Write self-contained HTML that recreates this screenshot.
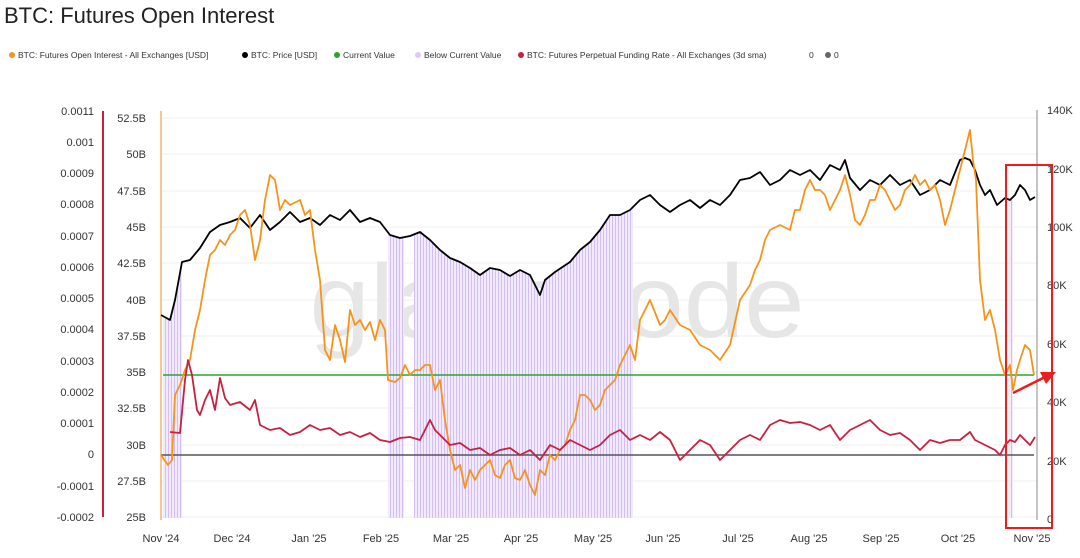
<!DOCTYPE html>
<html><head><meta charset="utf-8"><style>
body{margin:0;background:#fff;width:1080px;height:553px;overflow:hidden;font-family:"Liberation Sans",Arial,sans-serif}
</style></head><body>
<svg width="1080" height="553" xmlns="http://www.w3.org/2000/svg" font-family="Liberation Sans, Arial, sans-serif">
<text x="4" y="23" font-size="22" fill="#222">BTC: Futures Open Interest</text>
<g font-size="8.5" fill="#333">
<circle cx="12" cy="55" r="3" fill="#f7931a"/><text x="18" y="58">BTC: Futures Open Interest - All Exchanges [USD]</text>
<circle cx="245" cy="55" r="3" fill="#000"/><text x="251" y="58">BTC: Price [USD]</text>
<circle cx="337" cy="55" r="3" fill="#2aa52a"/><text x="343" y="58">Current Value</text>
<circle cx="418" cy="55" r="3" fill="#dcc8fa"/><text x="424" y="58">Below Current Value</text>
<circle cx="521" cy="55" r="3" fill="#c8203f"/><text x="527" y="58">BTC: Futures Perpetual Funding Rate - All Exchanges (3d sma)</text>
<text x="809" y="58">0</text><circle cx="828" cy="55" r="3" fill="#666"/><text x="834" y="58">0</text>
</g>
<g stroke="#efefef" stroke-width="1">
<line x1="161" x2="1037" y1="118" y2="118"/><line x1="161" x2="1037" y1="154" y2="154"/><line x1="161" x2="1037" y1="191" y2="191"/><line x1="161" x2="1037" y1="227" y2="227"/><line x1="161" x2="1037" y1="263" y2="263"/><line x1="161" x2="1037" y1="300" y2="300"/><line x1="161" x2="1037" y1="336" y2="336"/><line x1="161" x2="1037" y1="372" y2="372"/><line x1="161" x2="1037" y1="408" y2="408"/><line x1="161" x2="1037" y1="445" y2="445"/><line x1="161" x2="1037" y1="481" y2="481"/><line x1="161" x2="1037" y1="517" y2="517"/>
</g>
<text x="557" y="337" font-size="104" fill="#e6e6e6" text-anchor="middle" textLength="495" lengthAdjust="spacingAndGlyphs">glassnode</text>
<defs><pattern id="st" width="3" height="10" patternUnits="userSpaceOnUse"><rect width="3" height="10" fill="#f2eafd"/><rect width="1" height="10" fill="#d4bdf7"/></pattern></defs>
<g fill="url(#st)">
<polygon points="163,318 170,320 175,300 182,262 182,518 163,518"/>
<polygon points="388,233 395,237 404,238 404,518 388,518"/>
<polygon points="414,234 420,232 430,240 440,250 450,258 460,262 470,268 480,275 490,268 500,270 510,276 520,270 530,275 540,295 545,280 555,272 570,262 580,250 590,242 600,230 610,215 620,215 630,210 633,210 633,518 414,518"/>
<rect x="1009" y="200" width="4" height="318"/>
</g>
<line x1="103" x2="103" y1="111" y2="517" stroke="#c8203f" stroke-width="2"/>
<g font-size="11" fill="#333" text-anchor="end">
<text x="94" y="115">0.0011</text><text x="94" y="146">0.001</text><text x="94" y="177">0.0009</text><text x="94" y="208">0.0008</text><text x="94" y="240">0.0007</text><text x="94" y="271">0.0006</text><text x="94" y="302">0.0005</text><text x="94" y="333">0.0004</text><text x="94" y="365">0.0003</text><text x="94" y="396">0.0002</text><text x="94" y="427">0.0001</text><text x="94" y="458">0</text><text x="94" y="490">-0.0001</text><text x="94" y="521">-0.0002</text>
</g>
<g font-size="11" fill="#333" text-anchor="end">
<text x="146" y="122">52.5B</text><text x="146" y="158">50B</text><text x="146" y="195">47.5B</text><text x="146" y="231">45B</text><text x="146" y="267">42.5B</text><text x="146" y="304">40B</text><text x="146" y="340">37.5B</text><text x="146" y="376">35B</text><text x="146" y="412">32.5B</text><text x="146" y="449">30B</text><text x="146" y="485">27.5B</text><text x="146" y="521">25B</text>
</g>
<line x1="161" x2="161" y1="111" y2="520" stroke="#f7b46a" stroke-width="1.5"/>
<line x1="1037" x2="1037" y1="110" y2="520" stroke="#888" stroke-width="1"/>
<g font-size="11" fill="#333">
<text x="1047" y="114">140K</text><text x="1047" y="173">120K</text><text x="1047" y="231">100K</text><text x="1047" y="289">80K</text><text x="1047" y="348">60K</text><text x="1047" y="406">40K</text><text x="1047" y="465">20K</text><text x="1047" y="523">0</text>
</g>
<g font-size="11" fill="#333" text-anchor="middle">
<text x="161" y="542">Nov '24</text><text x="232" y="542">Dec '24</text><text x="309" y="542">Jan '25</text><text x="381" y="542">Feb '25</text><text x="451" y="542">Mar '25</text><text x="521" y="542">Apr '25</text><text x="593" y="542">May '25</text><text x="663" y="542">Jun '25</text><text x="738" y="542">Jul '25</text><text x="809" y="542">Aug '25</text><text x="881" y="542">Sep '25</text><text x="958" y="542">Oct '25</text><text x="1032" y="542">Nov '25</text>
</g>
<line x1="163" x2="1034" y1="375" y2="375" stroke="#2aa52a" stroke-width="1.5"/>
<line x1="161" x2="1034" y1="455" y2="455" stroke="#555" stroke-width="1.5"/>
<polyline fill="none" stroke="#000" stroke-width="1.8" stroke-linejoin="round" points="161,315 170,320 175,300 182,262 190,260 200,248 210,232 220,225 230,222 240,218 250,228 260,215 270,230 280,222 290,212 300,222 310,218 320,225 330,215 340,220 350,210 360,222 370,218 380,222 390,235 400,238 410,236 420,232 430,240 440,250 450,258 460,262 470,268 480,275 490,268 500,270 510,276 520,270 530,275 540,295 545,280 555,272 570,262 580,250 590,242 600,230 610,215 620,215 630,210 640,200 650,195 660,205 670,212 680,205 690,200 700,208 710,200 720,205 730,195 740,180 750,178 760,172 770,185 780,180 790,170 800,175 810,170 820,180 830,165 840,170 845,160 850,178 860,190 870,180 880,185 890,175 900,185 910,180 920,195 930,190 940,180 950,185 960,160 965,158 970,160 975,170 980,185 985,195 990,190 997,205 1005,198 1010,200 1015,195 1020,185 1025,190 1030,200 1035,197"/>
<polyline fill="none" stroke="#f7931a" stroke-width="1.8" stroke-linejoin="round" points="161,455 168,465 172,460 175,395 180,385 185,370 190,360 195,330 200,310 205,280 210,255 215,250 220,240 225,245 230,235 235,230 240,215 245,210 250,225 255,260 260,240 265,200 270,175 275,180 280,210 285,200 290,205 300,200 305,215 310,210 315,250 320,280 325,350 330,360 335,325 340,340 345,362 350,310 355,325 360,320 365,330 370,322 375,340 380,320 385,330 388,380 395,382 400,378 405,365 410,375 415,370 420,370 425,365 430,365 435,390 440,380 445,420 450,450 455,470 460,465 465,488 470,470 475,480 480,470 485,465 490,460 495,475 500,478 505,465 510,460 515,478 520,480 525,470 530,485 535,495 540,470 545,475 550,455 555,460 560,450 565,445 570,430 575,420 580,395 585,395 590,400 595,410 600,405 605,390 610,385 615,380 620,365 625,355 630,345 635,360 640,320 645,310 650,300 660,325 665,320 670,310 680,325 690,330 700,345 710,350 720,360 730,345 740,300 750,285 755,270 760,260 765,240 770,230 780,225 790,230 795,210 800,210 805,190 810,180 815,190 820,190 825,195 830,210 840,190 845,175 850,195 855,220 860,225 865,215 870,200 875,200 880,185 885,190 890,200 895,210 900,205 905,190 910,185 915,175 920,185 925,180 930,190 935,185 940,200 945,225 950,210 955,190 960,170 965,150 970,130 973,160 976,180 980,280 985,320 990,310 995,330 1000,360 1005,375 1010,365 1013,390 1017,370 1020,360 1025,345 1030,350 1034,375"/>
<polyline fill="none" stroke="#c8203f" stroke-width="1.8" stroke-linejoin="round" points="170,432 180,433 185,380 188,360 192,375 197,410 200,415 205,400 210,390 215,410 220,378 225,398 230,405 240,402 250,410 255,400 260,425 270,430 280,428 290,435 300,432 310,425 320,430 330,428 340,435 350,432 360,437 370,433 380,440 390,442 400,438 410,437 420,440 425,430 430,420 435,430 440,435 445,440 450,445 460,443 470,450 480,448 490,455 500,450 510,448 520,455 530,450 540,460 550,445 560,450 570,440 580,445 590,450 600,445 610,435 620,430 630,440 640,435 650,440 660,432 670,440 680,460 690,450 700,440 710,445 720,460 730,450 740,440 750,435 760,440 770,425 780,420 790,423 800,422 810,425 820,430 830,425 840,440 850,430 860,425 870,420 880,430 890,435 900,433 910,440 920,450 930,440 940,443 950,440 960,440 970,432 975,440 985,445 995,450 1000,455 1005,445 1010,440 1015,442 1020,435 1025,440 1030,445 1035,437"/>
<rect x="1006" y="165" width="46" height="363" fill="none" stroke="#ee1c1c" stroke-width="2"/>
<line x1="1013" y1="393" x2="1045" y2="377" stroke="#ee1c1c" stroke-width="2.5"/>
<polygon points="1056,372 1040,372 1046,384" fill="#ee1c1c"/>
</svg>
</body></html>
